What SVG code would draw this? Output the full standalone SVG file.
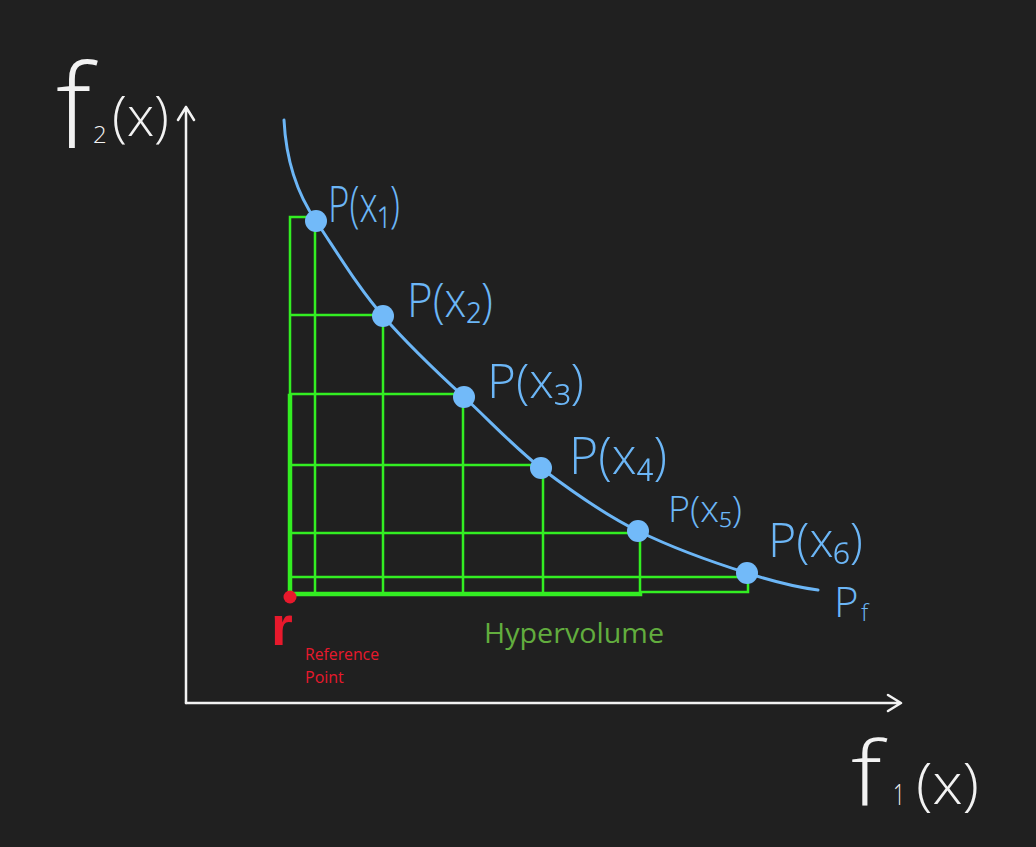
<svg xmlns="http://www.w3.org/2000/svg" width="1036" height="847" viewBox="0 0 1036 847">
<style>
.axis{stroke:#f2f2f2;stroke-width:2.5;fill:none;stroke-linecap:round;stroke-linejoin:round}
.grid{stroke:#33ee22;stroke-width:2.5;fill:none;stroke-linecap:square}
.thick{stroke:#33ee22;stroke-width:4.5;fill:none;stroke-linecap:square}
.curve{stroke:#6cb6f6;stroke-width:3;fill:none;stroke-linecap:round}
.pt{fill:#72baf9}
.hw{font-family:"Open Sans","DejaVu Sans",sans-serif;font-weight:300;fill:#6cb6f6}
.ax{font-family:"Open Sans","Liberation Sans",sans-serif;font-weight:300;fill:#f2f2f2}
</style>
<rect width="1036" height="847" fill="#202020"/>
<g id="axes">
<path class="axis" d="M186,703 V107 M178,120 L186,107 L194,120"/>
<path class="axis" d="M186,703 H900 M888,695 L901,703 L888,711"/>
</g>
<g id="hypervolume-grid">
<path class="grid" d="M290,217 V396 M290,217 H316 M290,315 H383 M290,394 H464 M290,465 H541 M290,533 H638 M290,577 H747"/>
<path class="grid" d="M315,221 V593 M383,316 V593 M463,397 V593 M543,468 V593 M640,531 V593 M748,573 V592 H640"/>
<path class="thick" d="M290,396 V594 H640"/>
</g>
<g id="connectors">
<path class="curve" d="M284,120 C286,160 298,195 316,221 C340,257 360,290 383,316 C410,347 440,375 464,397 C490,421 515,448 541,468 C570,490 605,515 638,531 C675,549 715,563 747,573 C775,582 795,587 818,590"/>
</g>
<g id="p1"><circle class="pt" cx="316" cy="221" r="11"/>
<text class="hw" x="328" y="222" font-size="50" textLength="72" lengthAdjust="spacingAndGlyphs">P(x₁)</text></g>
<g id="p2"><circle class="pt" cx="383" cy="316" r="11"/>
<text class="hw" x="407" y="317" font-size="48" textLength="86" lengthAdjust="spacingAndGlyphs">P(x₂)</text></g>
<g id="p3"><circle class="pt" cx="464" cy="397" r="11"/>
<text class="hw" x="487" y="398" font-size="48" textLength="97" lengthAdjust="spacingAndGlyphs">P(x₃)</text></g>
<g id="p4"><circle class="pt" cx="541" cy="468" r="11"/>
<text class="hw" x="569" y="474" font-size="52" textLength="98" lengthAdjust="spacingAndGlyphs">P(x₄)</text></g>
<g id="p5"><circle class="pt" cx="638" cy="531" r="11"/>
<text class="hw" x="668" y="522" font-size="36" textLength="74" lengthAdjust="spacingAndGlyphs">P(x₅)</text></g>
<g id="p6"><circle class="pt" cx="747" cy="573" r="11"/>
<text class="hw" x="768" y="557" font-size="48" textLength="95" lengthAdjust="spacingAndGlyphs">P(x₆)</text></g>
<g id="pf">
<text class="hw" x="834" y="617" font-size="42">P</text>
<text class="hw" x="861" y="621" font-size="24">f</text></g>
<g id="reference-point">
<circle cx="290" cy="597" r="6.5" fill="#e8192c"/>
<text x="271" y="645" font-family="Liberation Sans,Arial,sans-serif" font-weight="bold" font-size="56" fill="#e8192c">r</text>
<text x="305" y="660" font-family="Open Sans,Noto Sans,sans-serif" font-size="16" fill="#e8192c" textLength="74" lengthAdjust="spacingAndGlyphs">Reference</text>
<text x="305" y="683" font-family="Open Sans,Noto Sans,sans-serif" font-size="16" fill="#e8192c">Point</text>
</g>
<g id="hypervolume-label"><text x="484" y="643" font-family="Open Sans,Noto Sans,sans-serif" font-size="27" fill="#62ad3e" textLength="180" lengthAdjust="spacingAndGlyphs">Hypervolume</text></g>
<g id="y-label">
<text class="ax" transform="translate(56,148) scale(1.3,1.3)" font-size="90">f</text>
<text class="ax" x="93" y="143" font-size="24">2</text>
<text class="ax" x="112" y="136" font-size="55" textLength="57" lengthAdjust="spacingAndGlyphs">(x)</text></g>
<g id="x-label">
<text class="ax" transform="translate(851,805) scale(1.5,1.3)" font-size="68">f</text>
<text class="ax" x="893" y="805" font-size="30" textLength="12" lengthAdjust="spacingAndGlyphs">1</text>
<text class="ax" x="916" y="804" font-size="57" textLength="63" lengthAdjust="spacingAndGlyphs">(x)</text></g>
</svg>
